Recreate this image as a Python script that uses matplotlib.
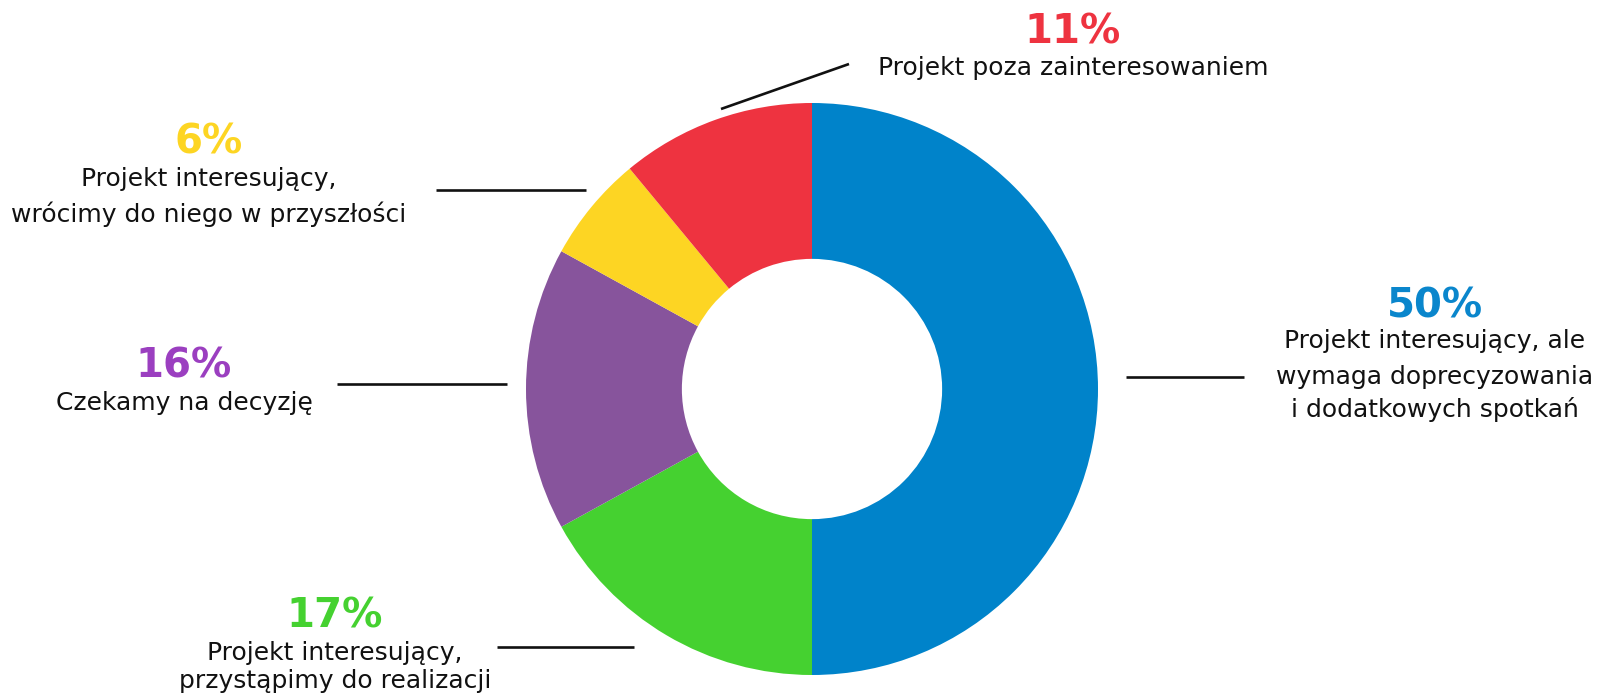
import matplotlib.pyplot as plt

# Donut shares, clockwise from 12 o'clock
shares = [50, 17, 16, 6, 11]
pct_labels = ["50%", "17%", "16%", "6%", "11%"]
descriptions = [
    "Projekt interesujący, ale\nwymaga doprecyzowania\ni dodatkowych spotkań",
    "Projekt interesujący,\nprzystąpimy do realizacji",
    "Czekamy na decyzję",
    "Projekt interesujący,\nwrócimy do niego w przyszłości",
    "Projekt poza zainteresowaniem",
]
colors = ["#0083CA", "#45D130", "#87549C", "#FDD523", "#EE3340"]
pct_colors = ["#0A86CC", "#45D130", "#9B3FC0", "#FDD523", "#EE3340"]

W, H = 1599, 697


def py(y):
    # pixel row (from top) -> data y
    return H - y


fig = plt.figure(figsize=(W / 100, H / 100), dpi=100)
ax = fig.add_axes([0, 0, 1, 1])
ax.set_xlim(0, W)
ax.set_ylim(0, H)
ax.set_aspect("equal")
ax.axis("off")

cx, cy, r = 812, py(389), 286
ax.pie(shares, colors=colors, startangle=90, counterclock=False,
       center=(cx, cy), radius=r,
       wedgeprops=dict(width=r * 0.545, linewidth=0))
ax.set_xlim(0, W)
ax.set_ylim(0, H)

# label layout: (x, pct y, line ys, leader line x0, y0, x1, y1)
layout = [
    (1435, 306, [341, 377, 410], 1126, 377, 1244, 377),
    (335, 617, [653, 681], 497, 647, 634, 647),
    (184, 366, [403], 337, 384, 507, 384),
    (209, 143, [179, 214], 436, 190, 586, 190),
    (1073, 33, [68], 721, 109, 849, 64),
]

for pct, desc, col, (x, ppy, line_ys, x0, y0, x1, y1) in zip(
        pct_labels, descriptions, pct_colors, layout):
    ax.text(x, py(ppy), pct, color=col, fontsize=29, fontweight="bold",
            ha="center", va="center", family="DejaVu Sans")
    for line, ly in zip(desc.split("\n"), line_ys):
        ax.text(x, py(ly), line, color="#111111", fontsize=18,
                ha="center", va="center", family="DejaVu Sans")
    ax.plot([x0, x1], [py(y0), py(y1)], color="#111111", linewidth=1.9,
            solid_capstyle="butt")

fig.savefig("out.png", dpi=100, facecolor="white")
